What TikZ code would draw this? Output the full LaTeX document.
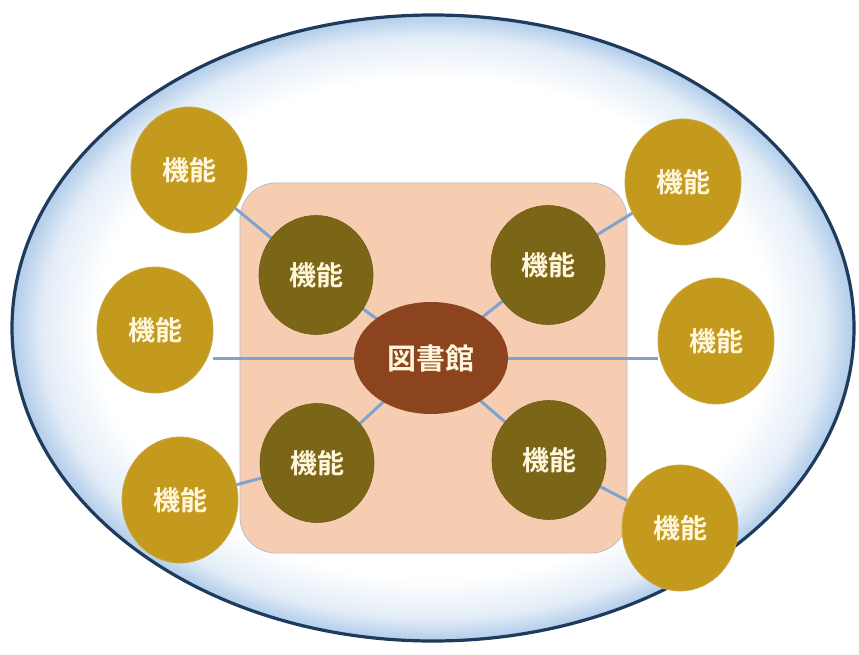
\documentclass[tikz,border=0pt]{standalone}
\usepackage{fontspec}
\newfontfamily\cjk{Noto Sans CJK JP}[BoldFont={Noto Sans CJK JP Bold}]
\usetikzlibrary{shapes.geometric}
\definecolor{gold}{HTML}{C39A1E}
\definecolor{olive}{HTML}{7B6517}
\definecolor{brownc}{HTML}{8B441E}
\definecolor{peach}{HTML}{F7CDB2}
\definecolor{rectedge}{HTML}{BDBCCB}
\definecolor{linkblue}{HTML}{7EA3CF}
\definecolor{navy}{HTML}{1E3A5C}
\definecolor{haloblue}{HTML}{A3C3E6}
\definecolor{txt}{HTML}{FFF6DC}
\pgfdeclarelayer{bg}
\pgfdeclarelayer{edges}
\pgfsetlayers{bg,edges,main}
\pgfdeclareradialshading{halo}{\pgfpoint{0bp}{0bp}}{color(0bp)=(white); color(20bp)=(white); color(23.2bp)=(haloblue!30); color(25bp)=(haloblue!85); color(50bp)=(haloblue!85)}
\tikzset{
  outerf/.style={ellipse, fill=gold, draw=gold!85!white, line width=0.8pt, minimum width=116pt, minimum height=126pt, inner sep=0pt, text=txt, font=\cjk\bfseries\fontsize{27}{27}\selectfont},
  innerf/.style={ellipse, fill=olive, draw=olive!90!black, line width=0.6pt, minimum width=114pt, minimum height=119pt, inner sep=0pt, text=txt, font=\cjk\bfseries\fontsize{27}{27}\selectfont},
  hub/.style={ellipse, fill=brownc, minimum width=154pt, minimum height=112pt, inner sep=0pt, text=txt, font=\cjk\bfseries\fontsize{29}{29}\selectfont},
  link/.style={draw=linkblue, line width=3pt}
}
\begin{document}
\begin{tikzpicture}[x=1pt,y=-1pt]
\useasboundingbox (0,0) rectangle (859,655);
% outer halo ellipse
\begin{pgfonlayer}{bg}
\shade[shading=halo] (433,328) ellipse [x radius=421, y radius=313];
\draw[navy, line width=3.2pt] (433,328) ellipse [x radius=421, y radius=313];
\node[draw=rectedge, line width=0.8pt, fill=peach, rounded corners=36pt, minimum width=387pt, minimum height=370pt, inner sep=0pt] (board) at (433.5,368) {};
\end{pgfonlayer}
% nodes
\node[hub] (lib) at (431,358) {図書館};
\node[innerf] (itl) at (316,275) {機能};
\node[innerf] (itr) at (548,265) {機能};
\node[innerf] (ibl) at (317,463) {機能};
\node[innerf] (ibr) at (549,460) {機能};
\node[outerf] (otl) at (189,170) {機能};
\node[outerf] (oml) at (155,330) {機能};
\node[outerf] (obl) at (180,500) {機能};
\node[outerf] (otr) at (683,182) {機能};
\node[outerf] (omr) at (716,341) {機能};
\node[outerf] (obr) at (680,528) {機能};
% connectors
\begin{pgfonlayer}{edges}
\draw[link] (lib.center) -- (itl.center) -- (otl.center);
\draw[link] (lib.center) -- (itr.center) -- (otr.center);
\draw[link] (lib.center) -- (ibl.center) -- (obl.center);
\draw[link] (lib.center) -- (ibr.center) -- (obr.center);
\draw[link] (lib.center) -- (lib.center -| oml.east);
\draw[link] (lib.center) -- (lib.center -| omr.west);
\end{pgfonlayer}
\end{tikzpicture}
\end{document}
